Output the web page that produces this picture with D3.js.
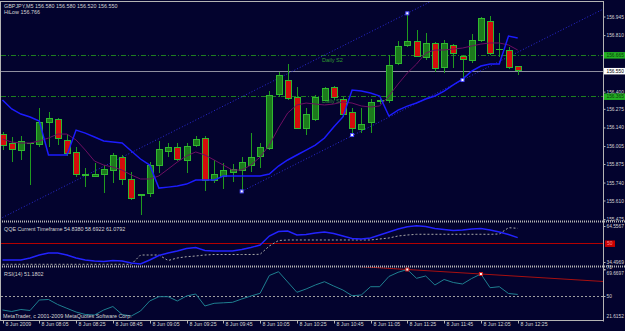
<!DOCTYPE html>
<html>
<head>
<meta charset="utf-8">
<script src="https://cdn.jsdelivr.net/npm/d3@7"></script>
<style>
body { margin: 0; background: #03032e; }
svg { display: block; }
text { font-family: "Liberation Sans", Arial, sans-serif; }
</style>
</head>
<body>
<div id="chart"></div>
<script>
// GBPJPY M5, 8 Jun 2009, 07:45 .. 12:25
const open = [156.092, 156.025, 155.971, 156.020, 156.018, 156.174, 156.199, 156.046, 155.959, 155.791,
  155.787, 155.797, 155.831, 155.923, 155.764, 155.646, 155.659, 155.862, 155.964, 155.993,
  155.901, 156.010, 156.061, 155.753, 155.782, 155.812, 155.824, 155.867, 155.932, 155.989,
  156.380, 156.484, 156.359, 156.134, 156.201, 156.339, 156.431, 156.344, 156.247, 156.127,
  156.174, 156.325, 156.339, 156.605, 156.738, 156.767, 156.649, 156.748, 156.576, 156.736,
  156.653, 156.624, 156.774, 156.907, 156.707, 156.697, 156.580];
const high = [156.107, 156.071, 156.078, 156.027, 156.279, 156.254, 156.206, 156.090, 155.999, 155.843,
  155.881, 155.867, 155.952, 155.940, 155.819, 155.655, 155.891, 156.044, 156.029, 156.025,
  156.025, 156.080, 156.078, 155.904, 155.884, 155.874, 155.923, 156.097, 156.029, 156.406,
  156.544, 156.598, 156.431, 156.279, 156.375, 156.436, 156.441, 156.363, 156.279, 156.279,
  156.346, 156.346, 156.666, 156.769, 156.968, 156.847, 156.827, 156.762, 156.774, 156.745,
  156.666, 156.816, 156.944, 156.949, 156.823, 156.726, 156.580];
const low = [155.976, 155.891, 155.904, 155.722, 156.000, 156.000, 156.012, 155.932, 155.782, 155.708,
  155.779, 155.662, 155.734, 155.722, 155.613, 155.504, 155.638, 155.813, 155.927, 155.899,
  155.813, 156.000, 155.681, 155.734, 155.691, 155.746, 155.676, 155.819, 155.843, 155.976,
  156.363, 156.339, 156.127, 156.085, 156.187, 156.335, 156.339, 156.218, 156.085, 156.102,
  156.102, 156.310, 156.317, 156.593, 156.726, 156.653, 156.629, 156.544, 156.533, 156.569,
  156.484, 156.605, 156.762, 156.666, 156.653, 156.562, 156.520];
const close = [156.012, 155.981, 156.036, 156.024, 156.177, 156.206, 156.061, 155.951, 155.795, 155.795,
  155.802, 155.838, 155.935, 155.764, 155.626, 155.650, 155.867, 155.981, 155.993, 155.904,
  156.005, 156.056, 155.758, 155.802, 155.824, 155.836, 155.887, 155.923, 155.993, 156.375,
  156.518, 156.351, 156.134, 156.237, 156.359, 156.424, 156.356, 156.235, 156.134, 156.158,
  156.320, 156.334, 156.593, 156.726, 156.767, 156.658, 156.748, 156.569, 156.748, 156.678,
  156.636, 156.774, 156.932, 156.678, 156.707, 156.576, 156.550];

// HiLow line (blue) and moving average (purple)
const hiLow = [156.339, 156.274, 156.237, 156.216, 156.187, 155.940, 155.940, 155.940, 156.121, 156.099,
  156.071, 156.042, 156.034, 156.027, 155.969, 155.911, 155.867, 155.700, 155.707, 155.715,
  155.729, 155.758, 155.758, 155.758, 155.787, 155.787, 155.787, 155.787, 155.787, 155.802,
  155.860, 155.904, 155.940, 155.976, 156.012, 156.063, 156.143, 156.216, 156.412, 156.404,
  156.390, 156.368, 156.223, 156.266, 156.295, 156.317, 156.346, 156.368, 156.404, 156.448,
  156.491, 156.549, 156.586, 156.600, 156.600, 156.803, 156.789];
const ma = [156.056, 156.034, 156.027, 156.027, 156.042, 156.063, 156.092, 156.092, 156.049, 155.976,
  155.896, 155.867, 155.853, 155.831, 155.795, 155.766, 155.766, 155.788, 155.838, 155.889,
  155.933, 155.962, 155.940, 155.904, 155.867, 155.831, 155.831, 155.867, 155.925, 156.012,
  156.136, 156.245, 156.303, 156.317, 156.310, 156.303, 156.310, 156.325, 156.317, 156.296,
  156.288, 156.296, 156.368, 156.455, 156.535, 156.600, 156.680, 156.702, 156.702, 156.709,
  156.716, 156.731, 156.745, 156.753, 156.753, 156.738, 156.702];

// QQE
const qqeFast = [36.17, 36.17, 36.17, 37.84, 40.34, 42.01, 42.01, 40.34, 37.84, 36.17,
  35.33, 34.91, 35.75, 35.33, 33.66, 32.83, 36.17, 39.92, 42.01, 43.68,
  45.77, 46.60, 44.10, 43.68, 43.68, 43.68, 44.93, 46.60, 48.69, 56.21,
  59.96, 60.38, 57.04, 57.46, 58.71, 59.55, 58.29, 56.21, 54.12, 53.70,
  54.54, 57.04, 59.55, 62.05, 63.97, 64.72, 64.14, 62.47, 61.63, 60.80,
  61.22, 62.05, 62.47, 61.22, 59.55, 57.46, 54.84];
const qqeSlow = [32.58, 32.58, 32.58, 32.58, 32.58, 32.58, 32.58, 32.58, 32.58, 32.58,
  32.58, 32.58, 32.58, 32.58, 32.58, 40.34, 40.34, 40.34, 35.75, 37.84,
  38.92, 39.51, 40.34, 40.76, 40.76, 40.76, 40.76, 40.76, 40.92, 47.86,
  52.45, 52.87, 52.87, 52.87, 52.87, 52.87, 52.87, 52.87, 52.87, 52.87,
  52.87, 53.70, 54.54, 56.21, 57.04, 57.63, 57.63, 57.63, 57.63, 57.63,
  57.63, 57.63, 57.63, 57.63, 57.88, 63.14, 62.64];

// RSI(14)
const rsi = [39.61, 38.49, 39.98, 39.24, 47.03, 47.40, 43.69, 40.87, 38.12, 36.27,
  35.89, 39.61, 42.20, 36.27, 35.15, 38.86, 46.29, 49.48, 49.48, 46.29,
  50.00, 51.48, 42.58, 44.58, 44.95, 45.32, 47.77, 50.00, 52.00, 65.22,
  68.04, 60.39, 52.75, 55.20, 58.17, 60.62, 57.42, 54.45, 50.22, 50.74,
  56.90, 56.90, 64.48, 67.60, 69.67, 63.14, 64.85, 58.17, 62.25, 60.02,
  58.91, 62.99, 66.33, 56.16, 56.90, 51.86, 51.18];

// axis labels
const priceTicks = [156.945, 156.810, 156.400, 156.275, 156.140, 156.005, 155.875, 155.740, 155.610, 155.475];
const dailyLevels = [156.665, 156.365];
const dailyNames = ["Daily S2", "Daily S1"];
const bidPrice = 156.550;
const qqeTicks = [64.5567, 34.4969];
const qqeLevel = 50;
const rsiTicks = [70, 69.6697, 50];
const rsiBottomLabel = "21.6152";
const timeBars = [0, 4, 8, 12, 16, 20, 24, 28, 32, 36, 40, 44, 48, 52, 56];
const timeLabels = ["8 Jun 2009", "8 Jun 08:05", "8 Jun 08:25", "8 Jun 08:45", "8 Jun 09:05",
  "8 Jun 09:25", "8 Jun 09:45", "8 Jun 10:05", "8 Jun 10:25", "8 Jun 10:45",
  "8 Jun 11:05", "8 Jun 11:25", "8 Jun 11:45", "8 Jun 12:05", "8 Jun 12:25"];

// channel / trendline anchor bars
const channelLowBars = [26, 38, 50];
const channelHighBar = 44;
const rsiLineBars = [44, 52];

const W = 625, H = 331;
const left = 1, right = 603;
const mainTop = 2, mainBot = 221, qqeTop = 222, qqeBot = 266, rsiTop = 267, rsiBot = 320.5;
const bg = "#03032e", grid = "#b4b4b4", txt = "#d4d4d4";
const axisFont = "4.8px";

const bars = d3.range(open.length);
const x = d3.scaleLinear().domain([0, 56]).range([2.5, 517.7]);
const y = d3.scaleLinear().domain([155.475, 156.945]).range([219.1, 16.5]);
const qy = d3.scaleLinear().domain([34.4969, 64.5567]).range([262, 226]);
const ry = d3.scaleLinear().domain([50, 69.67]).range([296, 269.5]);
const cx = i => Math.round(x(i)) + 0.5;
const lastBar = x.invert(right);

const svg = d3.select("#chart").append("svg").attr("width", W).attr("height", H);
svg.append("rect").attr("width", W).attr("height", H).attr("fill", bg);

const defs = svg.append("defs");
[["clipMain", mainTop, mainBot], ["clipQqe", qqeTop, qqeBot], ["clipRsi", rsiTop, rsiBot]].forEach(c => {
  defs.append("clipPath").attr("id", c[0]).append("rect")
    .attr("x", left).attr("y", c[1]).attr("width", right - left).attr("height", c[2] - c[1]);
});

// ---------- main panel ----------
const gMain = svg.append("g").attr("clip-path", "url(#clipMain)");

// daily levels (dash-dot) and their names
gMain.selectAll(".daily").data(dailyLevels).join("line")
  .attr("class", "daily")
  .attr("x1", left).attr("x2", right)
  .attr("y1", d => Math.round(y(d)) + 0.5).attr("y2", d => Math.round(y(d)) + 0.5)
  .attr("stroke", "#1f7f1f").attr("stroke-dasharray", "5,2,1,2");
gMain.selectAll(".dailyName").data(dailyLevels).join("text")
  .attr("class", "dailyName")
  .attr("x", 322).attr("y", d => y(d) + 7)
  .attr("font-size", "5.6px").attr("fill", "#2f9a2f")
  .text((d, i) => dailyNames[i]);

// bid line
gMain.append("line")
  .attr("x1", left).attr("x2", right)
  .attr("y1", Math.round(y(bidPrice)) + 0.5).attr("y2", Math.round(y(bidPrice)) + 0.5)
  .attr("stroke", "#8f8fa0");

// channel lines (dotted)
const slope = (low[channelLowBars[2]] - low[channelLowBars[0]]) / (channelLowBars[2] - channelLowBars[0]);
const lowAt = i => low[channelLowBars[0]] + slope * (i - channelLowBars[0]);
const highAt = i => high[channelHighBar] + slope * (i - channelHighBar);
gMain.append("line")
  .attr("x1", x(channelLowBars[0])).attr("y1", y(lowAt(channelLowBars[0])))
  .attr("x2", x(lastBar)).attr("y2", y(lowAt(lastBar)))
  .attr("stroke", "#2a2ad8").attr("stroke-dasharray", "1,2");
gMain.append("line")
  .attr("x1", x(-0.3)).attr("y1", y(highAt(-0.3)))
  .attr("x2", x(lastBar)).attr("y2", y(highAt(lastBar)))
  .attr("stroke", "#2a2ad8").attr("stroke-dasharray", "1,2");

// candles
gMain.selectAll(".wick").data(bars).join("line")
  .attr("class", "wick")
  .attr("x1", cx).attr("x2", cx)
  .attr("y1", i => y(high[i])).attr("y2", i => y(low[i]))
  .attr("stroke", "#1f9a1f").attr("shape-rendering", "crispEdges");
gMain.selectAll(".body").data(bars).join("rect")
  .attr("class", "body")
  .attr("x", i => cx(i) - 3).attr("width", 6)
  .attr("y", i => y(Math.max(open[i], close[i])))
  .attr("height", i => Math.max(0.01, Math.abs(y(open[i]) - y(close[i]))))
  .attr("fill", i => close[i] >= open[i] ? "#1c7a1c" : "#d40c0c")
  .attr("stroke", "#30b830").attr("shape-rendering", "crispEdges");

// indicator lines
const lineOf = (arr, sc) => d3.line().x((d, i) => x(i)).y(d => sc(d))(arr);
gMain.append("path").attr("d", lineOf(ma, y))
  .attr("fill", "none").attr("stroke", "#6e0e62").attr("stroke-width", 1);
gMain.append("path").attr("d", lineOf(hiLow, y))
  .attr("fill", "none").attr("stroke", "#1c1cff").attr("stroke-width", 1.5);

// anchor dots
const dots = channelLowBars.map(i => [i, low[i]]).concat([[channelHighBar, high[channelHighBar]]]);
gMain.selectAll(".dot").data(dots).join("rect")
  .attr("class", "dot")
  .attr("x", d => x(d[0]) - 1.5).attr("y", d => y(d[1]) - 1.5)
  .attr("width", 3).attr("height", 3)
  .attr("fill", "#ffffff").attr("stroke", "#4a4aff").attr("stroke-width", 1);

// ---------- QQE panel ----------
const gQ = svg.append("g").attr("clip-path", "url(#clipQqe)");
gQ.append("line")
  .attr("x1", left).attr("x2", right)
  .attr("y1", Math.round(qy(qqeLevel)) + 0.5).attr("y2", Math.round(qy(qqeLevel)) + 0.5)
  .attr("stroke", "#b40000");
gQ.append("path").attr("d", lineOf(qqeSlow, qy))
  .attr("fill", "none").attr("stroke", "#a8a8a8").attr("stroke-dasharray", "2,2");
gQ.append("path").attr("d", lineOf(qqeFast, qy))
  .attr("fill", "none").attr("stroke", "#2323ff").attr("stroke-width", 1.4);

// ---------- RSI panel ----------
const gR = svg.append("g").attr("clip-path", "url(#clipRsi)");
gR.append("line")
  .attr("x1", left).attr("x2", right)
  .attr("y1", Math.round(ry(50)) + 0.5).attr("y2", Math.round(ry(50)) + 0.5)
  .attr("stroke", "#a0a0a0").attr("stroke-dasharray", "2,2");
const rSlope = (rsi[rsiLineBars[1]] - rsi[rsiLineBars[0]]) / (rsiLineBars[1] - rsiLineBars[0]);
const rAt = i => rsi[rsiLineBars[0]] + rSlope * (i - rsiLineBars[0]);
gR.append("line")
  .attr("x1", x(35.8)).attr("y1", ry(rAt(35.8)))
  .attr("x2", x(lastBar)).attr("y2", ry(rAt(lastBar)))
  .attr("stroke", "#a81010");
gR.append("path").attr("d", lineOf(rsi, ry))
  .attr("fill", "none").attr("stroke", "#1f7f90").attr("stroke-width", 1);
gR.selectAll(".rdot").data(rsiLineBars).join("rect")
  .attr("class", "rdot")
  .attr("x", i => x(i) - 1.5).attr("y", i => ry(rsi[i]) - 1.5)
  .attr("width", 3).attr("height", 3)
  .attr("fill", "#ffffff").attr("stroke", "#d02020");

// ---------- frames ----------
const frame = svg.append("g").attr("stroke", grid).attr("fill", "none");
frame.append("line").attr("x1", 0).attr("x2", right).attr("y1", 1.5).attr("y2", 1.5);
frame.append("line").attr("x1", 0.5).attr("x2", 0.5).attr("y1", 1).attr("y2", rsiBot);
frame.append("line").attr("x1", right + 0.5).attr("x2", right + 0.5).attr("y1", 1).attr("y2", rsiBot + 1);
frame.append("line").attr("x1", 0).attr("x2", right).attr("y1", rsiBot).attr("y2", rsiBot);
[mainBot + 0.5, qqeBot + 0.5].forEach(v => {
  frame.append("line").attr("x1", 0).attr("x2", W).attr("y1", v).attr("y2", v)
    .attr("stroke-width", 2).attr("stroke-dasharray", "1,1");
});

// ---------- axes ----------
function styleAxis(g) {
  g.select(".domain").remove();
  g.selectAll(".tick line").attr("stroke", grid);
  g.selectAll(".tick text").attr("fill", txt).attr("font-size", axisFont)
    .attr("font-family", "Liberation Sans, Arial, sans-serif");
}
svg.append("g").attr("transform", `translate(${right + 0.5},0)`)
  .call(d3.axisRight(y).tickValues(priceTicks).tickSize(2).tickPadding(1).tickFormat(d3.format(".3f")))
  .call(styleAxis);
svg.append("g").attr("transform", `translate(${right + 0.5},0)`)
  .call(d3.axisRight(qy).tickValues(qqeTicks).tickSize(2).tickPadding(1).tickFormat(d3.format(".4f")))
  .call(styleAxis);
const rAxis = svg.append("g").attr("transform", `translate(${right + 0.5},0)`)
  .call(d3.axisRight(ry).tickValues(rsiTicks).tickSize(2).tickPadding(1).tickFormat(d => d === 69.6697 ? "69.6697" : d3.format("d")(d)))
  .call(styleAxis);
rAxis.selectAll(".tick text").attr("dy", d => d === 70 ? "-0.1em" : d === 69.6697 ? "0.95em" : "0.32em");
svg.append("text").attr("x", right + 3.5).attr("y", rsiBot - 2.5)
  .attr("fill", txt).attr("font-size", axisFont).text(rsiBottomLabel);

// highlighted price labels
function tag(yy, fill, color, label) {
  svg.append("rect").attr("x", right + 1).attr("y", yy - 3).attr("width", W - right - 1).attr("height", 6.5)
    .attr("fill", fill);
  svg.append("text").attr("x", right + 3.5).attr("y", yy + 1.8)
    .attr("fill", color).attr("font-size", axisFont).text(label);
}
dailyLevels.forEach(v => tag(y(v), "#23b023", "#0a3a0a", d3.format(".3f")(v)));
tag(y(bidPrice), "#ffffff", "#000000", d3.format(".3f")(bidPrice));
svg.append("rect").attr("x", right + 2).attr("y", qy(qqeLevel) - 3).attr("width", 10).attr("height", 6.5)
  .attr("fill", "#c80000");
svg.append("text").attr("x", right + 4).attr("y", qy(qqeLevel) + 1.8)
  .attr("fill", "#ff9090").attr("font-size", axisFont).text(qqeLevel);

// time axis
const tAxis = svg.append("g");
tAxis.selectAll("line").data(timeBars).join("line")
  .attr("x1", i => cx(i)).attr("x2", i => cx(i))
  .attr("y1", rsiBot).attr("y2", rsiBot + 3).attr("stroke", grid);
tAxis.selectAll("text").data(timeBars).join("text")
  .attr("x", i => cx(i) + 2).attr("y", rsiBot + 5.8)
  .attr("fill", txt).attr("font-size", "5.2px")
  .text((d, k) => timeLabels[k]);

// ---------- panel captions ----------
const captions = [
  ["GBPJPY,M5  156.580 156.580 156.520 156.550", 4, 7.8],
  ["HiLow 156.766", 4, 13.8],
  ["QQE Current Timeframe 54.8380 58.6922 61.0792", 4, 231],
  ["RSI(14) 51.1802", 4, 276.3],
  ["MetaTrader, c 2001-2009 MetaQuotes Software Corp.", 3, 317.6]
];
svg.selectAll(".cap").data(captions).join("text")
  .attr("class", "cap")
  .attr("x", d => d[1]).attr("y", d => d[2])
  .attr("fill", txt).attr("font-size", "5.4px")
  .text(d => d[0]);
</script>
</body>
</html>
